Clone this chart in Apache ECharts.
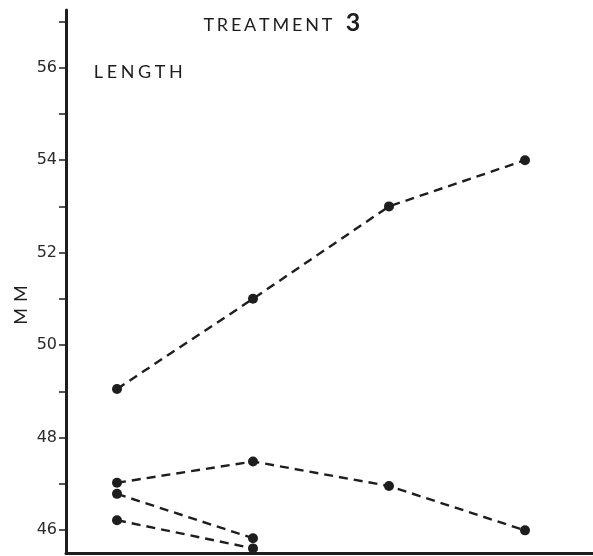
<!DOCTYPE html>
<html>
<head>
<meta charset="utf-8">
<script src="https://cdn.jsdelivr.net/npm/echarts@6/dist/echarts.min.js"></script>
<style>
  html, body { margin: 0; padding: 0; background: #fff; }
  #main { width: 593px; height: 556px; }
</style>
</head>
<body>
<div id="main"></div>
<script>
// 数据
var days = [1, 2, 3, 4];
var fish1 = [49.05, 51.0, 53.0, 54.0];
var fish2 = [47.02, 47.48, 46.95, 45.99];
var fish3 = [46.78, 45.82];
var fish4 = [46.21, 45.6];
var tickValues = [46, 47, 48, 49, 50, 51, 52, 53, 54, 55, 56, 57];
var labelValues = [46, 48, 50, 52, 54, 56];

var ink = "#1e1e1e";
var font = "Lato, 'DejaVu Sans', sans-serif";

// 字母间距: 每个字母一个 rich 片段
function spaced(word, style) {
  return word.split("").map(function (c) {
    return "{" + style + "|" + c + "}";
  }).join("");
}

function pairs(vals) {
  return vals.map(function (v, i) { return [days[i], v]; });
}

function line(vals) {
  return {
    type: "line",
    data: pairs(vals),
    symbol: "circle",
    symbolSize: 10,
    clip: false,
    itemStyle: { color: ink },
    lineStyle: { color: ink, width: 2.4, type: [9, 6] },
    z: 3,
  };
}

var chart = echarts.init(document.getElementById("main"));
chart.setOption({
  animation: false,
  backgroundColor: "#fff",
  grid: { left: 66, right: 0, top: 10, bottom: 3 },
  xAxis: {
    type: "value",
    min: 0.625,
    max: 4.5,
    axisLine: { show: true, lineStyle: { color: ink, width: 3 } },
    axisTick: { show: false },
    axisLabel: { show: false },
    splitLine: { show: false },
  },
  yAxis: {
    type: "value",
    min: 45.5,
    max: 57.25,
    axisLine: { show: true, lineStyle: { color: ink, width: 3 } },
    axisTick: {
      show: true,
      customValues: tickValues,
      length: 7,
      lineStyle: { color: ink, width: 1.5 },
    },
    axisLabel: {
      customValues: labelValues,
      margin: 9,
      color: "#2a2a2a",
      fontSize: 16,
      fontFamily: "'DejaVu Sans', sans-serif",
    },
    splitLine: { show: false },
  },
  graphic: [
    {
      type: "text",
      x: 202,
      y: 10,
      style: {
        text: spaced("TREATMENT", "l") + "{g| }{n|3}",
        fill: ink,
        rich: {
          l: { fontSize: 18, fontFamily: font, padding: [5, 1.4, 0, 1.4], color: ink },
          g: { fontSize: 18, width: 12 },
          n: { fontSize: 25, fontFamily: font, fontWeight: "bold", color: ink },
        },
      },
    },
    {
      type: "text",
      x: 92,
      y: 63,
      style: {
        text: spaced("LENGTH", "l"),
        fill: ink,
        rich: {
          l: { fontSize: 18, fontFamily: font, padding: [0, 1.8, 0, 1.8], color: ink },
        },
      },
    },
    {
      type: "text",
      x: 21,
      y: 305,
      rotation: Math.PI / 2,
      style: {
        text: spaced("MM", "l"),
        fill: ink,
        align: "center",
        verticalAlign: "middle",
        rich: {
          l: { fontSize: 18, fontFamily: font, padding: [0, 3, 0, 3], color: ink },
        },
      },
    },
  ],
  series: [line(fish1), line(fish2), line(fish3), line(fish4)],
});
</script>
</body>
</html>
